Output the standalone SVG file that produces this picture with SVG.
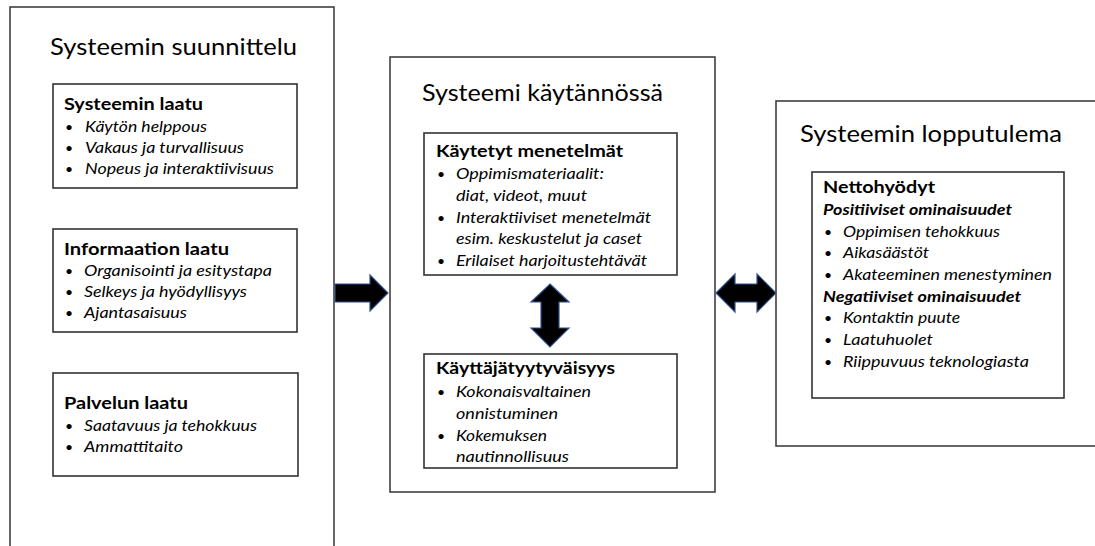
<svg xmlns="http://www.w3.org/2000/svg" width="1095" height="546" viewBox="0 0 1095 546">
  <style>
    .panel { fill: #ffffff; stroke: #404040; stroke-width: 1.6; }
    .box { fill: #ffffff; stroke: #333333; stroke-width: 1.6; }
    text { font-family: Lato, "Liberation Sans", sans-serif; fill: #000000; }
    .title { font-size: 24px; }
    .head { font-size: 17px; font-weight: bold; }
    .sub { font-size: 15.5px; font-weight: bold; font-style: italic; }
    .item { font-size: 15.5px; font-style: italic; }
    .bul { font-size: 14px; }
    .arrow { fill: #000000; stroke: #2f528f; stroke-width: 1.2; stroke-linejoin: miter; }
  </style>
  <rect width="1095" height="546" fill="#ffffff"/>

  <!-- Design column -->
  <g id="suunnittelu">
    <rect class="panel" x="10" y="7" width="324" height="560"/>
    <text class="title" x="50" y="55" textLength="247" lengthAdjust="spacingAndGlyphs">Systeemin suunnittelu</text>
  </g>
  <g id="systeemin-laatu">
    <rect class="box" x="53" y="84" width="244" height="104"/>
    <text class="head" x="64" y="110" textLength="139" lengthAdjust="spacingAndGlyphs">Systeemin laatu</text>
    <text class="bul" x="65" y="132">•</text>
    <text class="item" x="85" y="132" textLength="122" lengthAdjust="spacingAndGlyphs">Käytön helppous</text>
    <text class="bul" x="65" y="153">•</text>
    <text class="item" x="85" y="153" textLength="159" lengthAdjust="spacingAndGlyphs">Vakaus ja turvallisuus</text>
    <text class="bul" x="65" y="174">•</text>
    <text class="item" x="85" y="174" textLength="189" lengthAdjust="spacingAndGlyphs">Nopeus ja interaktiivisuus</text>
  </g>
  <g id="informaation-laatu">
    <rect class="box" x="53" y="229" width="244" height="103"/>
    <text class="head" x="64" y="255" textLength="165" lengthAdjust="spacingAndGlyphs">Informaation laatu</text>
    <text class="bul" x="65" y="276">•</text>
    <text class="item" x="84" y="276" textLength="188" lengthAdjust="spacingAndGlyphs">Organisointi ja esitystapa</text>
    <text class="bul" x="65" y="297">•</text>
    <text class="item" x="84" y="297" textLength="163" lengthAdjust="spacingAndGlyphs">Selkeys ja hyödyllisyys</text>
    <text class="bul" x="65" y="318">•</text>
    <text class="item" x="84" y="318" textLength="103" lengthAdjust="spacingAndGlyphs">Ajantasaisuus</text>
  </g>
  <g id="palvelun-laatu">
    <rect class="box" x="53" y="373" width="245" height="103"/>
    <text class="head" x="64" y="409" textLength="124" lengthAdjust="spacingAndGlyphs">Palvelun laatu</text>
    <text class="bul" x="65" y="431">•</text>
    <text class="item" x="84" y="431" textLength="173" lengthAdjust="spacingAndGlyphs">Saatavuus ja tehokkuus</text>
    <text class="bul" x="65" y="452">•</text>
    <text class="item" x="84" y="452" textLength="99" lengthAdjust="spacingAndGlyphs">Ammattitaito</text>
  </g>

  <!-- Usage column -->
  <g id="kaytannossa">
    <rect class="panel" x="390" y="57" width="325" height="435"/>
    <text class="title" x="422" y="101" textLength="241" lengthAdjust="spacingAndGlyphs">Systeemi käytännössä</text>
  </g>
  <g id="menetelmat">
    <rect class="box" x="424" y="133" width="253" height="142"/>
    <text class="head" x="436" y="157" textLength="187" lengthAdjust="spacingAndGlyphs">Käytetyt menetelmät</text>
    <text class="bul" x="437" y="179">•</text>
    <text class="item" x="456" y="179" textLength="148" lengthAdjust="spacingAndGlyphs">Oppimismateriaalit:</text>
    <text class="item" x="456" y="201" textLength="131" lengthAdjust="spacingAndGlyphs">diat, videot, muut</text>
    <text class="bul" x="437" y="223">•</text>
    <text class="item" x="456" y="223" textLength="195" lengthAdjust="spacingAndGlyphs">Interaktiiviset menetelmät</text>
    <text class="item" x="456" y="244" textLength="186" lengthAdjust="spacingAndGlyphs">esim. keskustelut ja caset</text>
    <text class="bul" x="437" y="266">•</text>
    <text class="item" x="456" y="266" textLength="191" lengthAdjust="spacingAndGlyphs">Erilaiset harjoitustehtävät</text>
  </g>
  <g id="tyytyvaisyys">
    <rect class="box" x="424" y="354" width="253" height="114"/>
    <text class="head" x="436" y="374" textLength="179" lengthAdjust="spacingAndGlyphs">Käyttäjätyytyväisyys</text>
    <text class="bul" x="437" y="397">•</text>
    <text class="item" x="456" y="397" textLength="135" lengthAdjust="spacingAndGlyphs">Kokonaisvaltainen</text>
    <text class="item" x="456" y="419" textLength="102" lengthAdjust="spacingAndGlyphs">onnistuminen</text>
    <text class="bul" x="437" y="441">•</text>
    <text class="item" x="456" y="441" textLength="91" lengthAdjust="spacingAndGlyphs">Kokemuksen</text>
    <text class="item" x="456" y="462" textLength="113" lengthAdjust="spacingAndGlyphs">nautinnollisuus</text>
  </g>

  <!-- Outcome column -->
  <g id="lopputulema">
    <rect class="panel" x="776" y="101" width="340" height="345"/>
    <text class="title" x="800" y="142" textLength="262" lengthAdjust="spacingAndGlyphs">Systeemin lopputulema</text>
  </g>
  <g id="nettohyodyt">
    <rect class="box" x="812" y="172" width="252" height="226"/>
    <text class="head" x="823" y="193" textLength="112" lengthAdjust="spacingAndGlyphs">Nettohyödyt</text>
    <text class="sub" x="823" y="215" textLength="189" lengthAdjust="spacingAndGlyphs">Positiiviset ominaisuudet</text>
    <text class="bul" x="824" y="237">•</text>
    <text class="item" x="843" y="237" textLength="157" lengthAdjust="spacingAndGlyphs">Oppimisen tehokkuus</text>
    <text class="bul" x="824" y="258">•</text>
    <text class="item" x="843" y="258" textLength="86" lengthAdjust="spacingAndGlyphs">Aikasäästöt</text>
    <text class="bul" x="824" y="280">•</text>
    <text class="item" x="843" y="280" textLength="209" lengthAdjust="spacingAndGlyphs">Akateeminen menestyminen</text>
    <text class="sub" x="823" y="302" textLength="198" lengthAdjust="spacingAndGlyphs">Negatiiviset ominaisuudet</text>
    <text class="bul" x="824" y="323">•</text>
    <text class="item" x="843" y="323" textLength="117" lengthAdjust="spacingAndGlyphs">Kontaktin puute</text>
    <text class="bul" x="824" y="345">•</text>
    <text class="item" x="843" y="345" textLength="90" lengthAdjust="spacingAndGlyphs">Laatuhuolet</text>
    <text class="bul" x="824" y="367">•</text>
    <text class="item" x="843" y="367" textLength="186" lengthAdjust="spacingAndGlyphs">Riippuvuus teknologiasta</text>
  </g>

  <!-- Block arrows between stages -->
  <g id="connectors">
    <polygon class="arrow" points="335,284 370,284 370,275 388,293 370,311 370,302 335,302"/>
    <polygon class="arrow" points="716,293 735,274 735,284 757,284 757,274 776,293 757,312 757,302 735,302 735,312"/>
    <polygon class="arrow" points="550,284 569,302 559,302 559,328 569,328 550,347 531,328 541,328 541,302 531,302"/>
  </g>
</svg>
